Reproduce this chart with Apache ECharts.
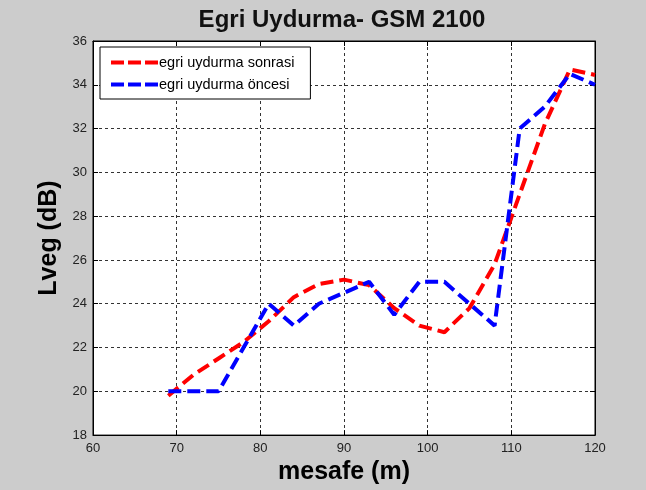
<!DOCTYPE html>
<html>
<head>
<meta charset="utf-8">
<script src="https://cdn.jsdelivr.net/npm/echarts@6/dist/echarts.min.js"></script>
<style>
  html, body { margin: 0; padding: 0; background: #cccccc; }
  #chart { width: 646px; height: 490px; }
</style>
</head>
<body>
<div id="chart"></div>
<script>
// distance (m) at which each value was taken
const distances = [69, 72, 75, 78, 81, 84, 87, 90, 93, 96, 99, 102, 105, 108, 111, 114, 117, 120];
// Lveg (dB) after curve fitting
const afterFit = [19.8, 20.75, 21.5, 22.25, 23.2, 24.3, 24.9, 25.1, 24.85, 23.8, 23.0, 22.7, 23.8, 25.8, 29.0, 32.2, 34.7, 34.45];
// Lveg (dB) before curve fitting
const beforeFit = [20, 20, 20, 22, 24, 23, 24, 24.5, 25, 23.5, 25, 25, 24, 23, 32, 33, 34.5, 34];

const seriesNames = ['egri uydurma sonrasi', 'egri uydurma öncesi'];
const xTicks = { min: 60, max: 120, step: 10 };
const yTicks = { min: 18, max: 36, step: 2 };

const pairs = (ys) => distances.map((x, i) => [x, ys[i]]);

const font = '"Liberation Sans", Arial, sans-serif';
const gridDash = { color: '#333', width: 1, type: [3, 3] };
const dash = [13, 6];

const chart = echarts.init(document.getElementById('chart'), null, { renderer: 'canvas' });

const baseX = {
  type: 'value', min: xTicks.min, max: xTicks.max, interval: xTicks.step,
  axisLine: { show: true, lineStyle: { color: '#000', width: 1 } },
  axisTick: { show: true, inside: true, length: 5, lineStyle: { color: '#000' } }
};
const baseY = {
  type: 'value', min: yTicks.min, max: yTicks.max, interval: yTicks.step,
  axisLine: { show: true, lineStyle: { color: '#000', width: 1 } },
  axisTick: { show: true, inside: true, length: 5, lineStyle: { color: '#000' } }
};

chart.setOption({
  backgroundColor: '#cccccc',
  animation: false,
  title: {
    text: 'Egri Uydurma- GSM 2100',
    left: 337, top: 3, textAlign: 'center',
    textStyle: { fontFamily: font, fontSize: 24, fontWeight: 'bold', color: '#111' }
  },
  grid: {
    left: 93, right: 51, top: 41, bottom: 54,
    show: true, backgroundColor: '#ffffff', borderColor: '#000', borderWidth: 1
  },
  legend: {
    orient: 'vertical',
    left: 100, top: 47,
    padding: [8, 16, 7, 9],
    itemGap: 7,
    itemWidth: 48, itemHeight: 14,
    backgroundColor: '#ffffff',
    borderColor: '#000', borderWidth: 1, borderRadius: 0,
    itemStyle: { opacity: 0, borderWidth: 0 },
    lineStyle: { width: 4, type: [13, 4] },
    textStyle: { fontFamily: font, fontSize: 14.5, color: '#000', padding: [0, 0, 0, -5] },
    data: seriesNames
  },
  xAxis: [
    Object.assign({}, baseX, {
      position: 'bottom',
      name: 'mesafe (m)', nameLocation: 'middle', nameGap: 22,
      nameTextStyle: { fontFamily: font, fontSize: 25, fontWeight: 'bold', color: '#000' },
      axisLabel: { fontFamily: font, fontSize: 13, color: '#222', margin: 7 },
      splitLine: { show: true, lineStyle: gridDash }
    }),
    Object.assign({}, baseX, {
      position: 'top',
      axisLabel: { show: false },
      splitLine: { show: false }
    })
  ],
  yAxis: [
    Object.assign({}, baseY, {
      position: 'left',
      name: 'Lveg (dB)', nameLocation: 'middle', nameGap: 26, nameRotate: 90,
      nameTextStyle: { fontFamily: font, fontSize: 25, fontWeight: 'bold', color: '#000' },
      axisLabel: { fontFamily: font, fontSize: 13, color: '#222', margin: 6 },
      splitLine: { show: true, lineStyle: gridDash }
    }),
    Object.assign({}, baseY, {
      position: 'right',
      axisLabel: { show: false },
      splitLine: { show: false }
    })
  ],
  series: [
    {
      name: seriesNames[0], type: 'line', xAxisIndex: 0, yAxisIndex: 0,
      data: pairs(afterFit), symbol: 'none', smooth: false,
      lineStyle: { color: '#ff0000', width: 4, type: dash },
      itemStyle: { color: '#ff0000' }
    },
    {
      name: seriesNames[1], type: 'line', xAxisIndex: 0, yAxisIndex: 0,
      data: pairs(beforeFit), symbol: 'none', smooth: false,
      lineStyle: { color: '#0000ff', width: 4, type: dash },
      itemStyle: { color: '#0000ff' }
    }
  ]
});
</script>
</body>
</html>
